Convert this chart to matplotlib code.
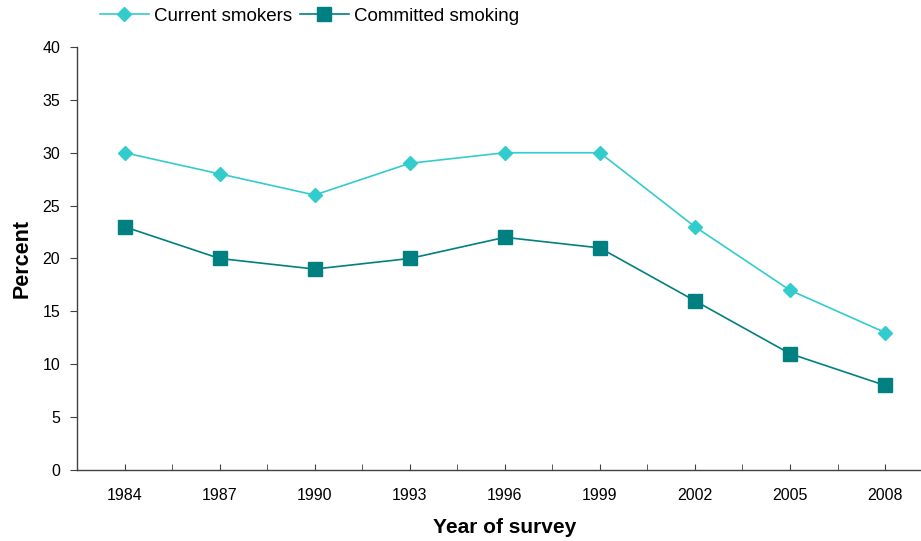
import numpy as np
import matplotlib.pyplot as plt
from matplotlib.ticker import FixedLocator

plt.rcParams['font.family'] = ['Liberation Sans', 'DejaVu Sans']

# Survey years and percentages
years = ['1984', '1987', '1990', '1993', '1996', '1999', '2002', '2005', '2008']
current_smokers = [30, 28, 26, 29, 30, 30, 23, 17, 13]
committed_smoking = [23, 20, 19, 20, 22, 21, 16, 11, 8]

x = np.arange(len(years))

fig = plt.figure(figsize=(9.21, 5.41), dpi=100)
# right edge of the plot runs past the figure edge
ax = fig.add_axes([0.0836, 0.1312, 0.929, 0.782])

ax.plot(x, current_smokers, color='#33CCCC', lw=1.2, marker='D', ms=7,
        label='Current smokers')
ax.plot(x, committed_smoking, color='#008080', lw=1.2, marker='s', ms=10,
        label='Committed smoking')

ax.set_xlim(-0.5, len(years) - 0.5)
ax.set_ylim(0, 40)
ax.set_yticks(range(0, 41, 5))
ax.set_xticks(x)
ax.set_xticklabels(years)
ax.xaxis.set_minor_locator(FixedLocator(x[:-1] + 0.5))

for side in ['top', 'right']:
    ax.spines[side].set_visible(False)
for side in ['left', 'bottom']:
    ax.spines[side].set_color('#404040')
    ax.spines[side].set_linewidth(1.0)

ax.tick_params(axis='x', which='both', direction='in', length=4, color='#404040',
               labelsize=11.5, pad=13)
ax.tick_params(axis='y', direction='out', length=5, color='#404040',
               labelsize=11.5, pad=7)

ax.set_xlabel('Year of survey', fontsize=15, fontweight='bold', labelpad=11)
ax.set_ylabel('Percent', fontsize=15.5, fontweight='bold', labelpad=7)

ax.legend(loc='lower left', bbox_to_anchor=(0.018, 1.035), ncol=2, frameon=False,
          fontsize=13.5, handlelength=2.6, columnspacing=0.4, handletextpad=0.3,
          borderaxespad=0)

fig.savefig('out.png', dpi=100)
